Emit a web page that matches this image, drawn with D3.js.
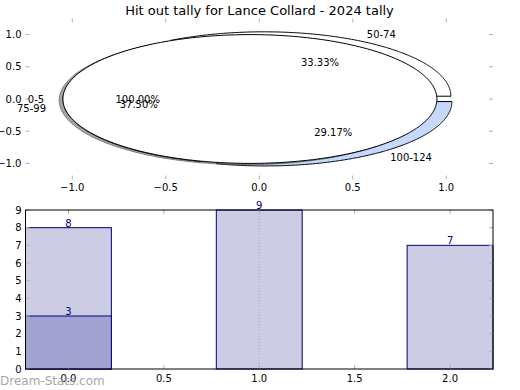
<!DOCTYPE html>
<html><head><meta charset="utf-8">
<script src="https://cdn.jsdelivr.net/npm/d3@7"></script>
<style>body{margin:0;background:#fff}svg{display:block}text{font-family:"DejaVu Sans",sans-serif}</style>
</head><body>
<script>
// ---- data ----
const title = "Hit out tally for Lance Collard - 2024 tally";
const innerLabels = ["0-5"];
const innerValues = [24];
const innerColors = ["#ffffff"];
const outerLabels = ["50-74", "75-99", "100-124"];
const outerValues = [8, 9, 7];
const outerColors = ["#ffffff", "#ffffff", "#c6d9fc"];
const barPositions = [0, 1, 2];
const barValues = [8, 9, 7];
const overlayPositions = [0];
const overlayValues = [3];
const pieTicks = [-1.0, -0.5, 0.0, 0.5, 1.0];
const barXTicks = [0.0, 0.5, 1.0, 1.5, 2.0];
const barYTicks = [0,1,2,3,4,5,6,7,8,9];

const W = 520, H = 390;
const svg = d3.select("body").append("svg").attr("width", W).attr("height", H);
const font = "DejaVu Sans";
const tickCol = "#b0b0b0";

svg.append("text").attr("x", 259.5).attr("y", 15).attr("text-anchor", "middle")
  .attr("font-size", 13).text(title);

// ---- top (pie) axes ----
const L = 25.5, R = 493;
const xT = d3.scaleLinear([-1.25, 1.25], [L, R]);
const yT = d3.scaleLinear([-1.25, 1.25], [179.5, 18.5]);
const explode = 0.05;
const line = d3.line().x(d => xT(d[0])).y(d => yT(d[1]));

function wedge(cx, cy, a0, a1) {
  const pts = [];
  const full = (a1 - a0) >= 2 * Math.PI - 1e-9;
  if (!full) pts.push([cx, cy]);
  const n = 240;
  for (let i = 0; i <= n; i++) {
    const a = a0 + (a1 - a0) * i / n;
    pts.push([cx + Math.cos(a), cy + Math.sin(a)]);
  }
  return line(pts) + "Z";
}
const pieGen = d3.pie().sort(null).startAngle(0).endAngle(2 * Math.PI);
const gPie = svg.append("g");
const labelData = [];

function drawPie(values, labels, colors, shadow) {
  const arcs = pieGen(values);
  const total = d3.sum(values);
  arcs.forEach((a, i) => {
    const mid = (a.startAngle + a.endAngle) / 2;
    const cx = explode * Math.cos(mid), cy = explode * Math.sin(mid);
    if (shadow) {
      gPie.append("path").attr("d", wedge(cx - 0.02, cy - 0.02, a.startAngle, a.endAngle))
        .attr("fill", "rgb(77,77,77)").attr("fill-opacity", 0.5)
        .attr("stroke", "rgb(77,77,77)").attr("stroke-opacity", 0.6).attr("stroke-width", 1);
    }
    gPie.append("path").attr("d", wedge(cx, cy, a.startAngle, a.endAngle))
      .attr("fill", colors[i]).attr("stroke", "#000").attr("stroke-width", 1);
    const lx = cx + 1.1 * Math.cos(mid), ly = cy + 1.1 * Math.sin(mid);
    labelData.push({x: lx, y: ly, t: labels[i], anchor: lx > 0 ? "start" : "end"});
    const px = cx + 0.6 * Math.cos(mid), py = cy + 0.6 * Math.sin(mid);
    labelData.push({x: px, y: py, t: (values[i] / total * 100).toFixed(2) + "%", anchor: "middle"});
  });
}
drawPie(outerValues, outerLabels, outerColors, false);
drawPie(innerValues, innerLabels, innerColors, true);

// top axes ticks (no spines)
const gTA = svg.append("g");
pieTicks.forEach(t => {
  gTA.append("line").attr("x1", xT(t)).attr("x2", xT(t)).attr("y1", 179.5).attr("y2", 175.5).attr("stroke", tickCol);
  gTA.append("line").attr("x1", xT(t)).attr("x2", xT(t)).attr("y1", 18.5).attr("y2", 22.5).attr("stroke", tickCol);
  gTA.append("line").attr("y1", yT(t)).attr("y2", yT(t)).attr("x1", L).attr("x2", L + 4).attr("stroke", tickCol);
  gTA.append("line").attr("y1", yT(t)).attr("y2", yT(t)).attr("x1", R).attr("x2", R - 4).attr("stroke", tickCol);
  gTA.append("text").attr("x", xT(t)).attr("y", 191).attr("text-anchor", "middle").attr("font-size", 10)
    .text(d3.format(".1f")(t));
  gTA.append("text").attr("x", L - 4).attr("y", yT(t)).attr("dy", "0.35em").attr("text-anchor", "end").attr("font-size", 10)
    .text(d3.format(".1f")(t));
});
labelData.forEach(d => {
  svg.append("text").attr("x", xT(d.x)).attr("y", yT(d.y)).attr("dy", "0.35em")
    .attr("text-anchor", d.anchor).attr("font-size", 10).text(d.t);
});

// ---- bottom (bar) axes ----
const top2 = 210, bot2 = 369;
const xB = d3.scaleLinear([-0.225, 2.225], [L, R]);
const yB = d3.scaleLinear([0, 9], [bot2, top2]);
const bw = 0.45;
const gB = svg.append("g");
barPositions.forEach((p, i) => {
  gB.append("rect").attr("x", xB(p - bw / 2)).attr("width", xB(p + bw / 2) - xB(p - bw / 2))
    .attr("y", yB(barValues[i])).attr("height", yB(0) - yB(barValues[i]))
    .attr("fill", "#ccccE5").attr("stroke", "#000080").attr("stroke-width", 1);
});
overlayPositions.forEach((p, i) => {
  gB.append("rect").attr("x", xB(p - bw / 2)).attr("width", xB(p + bw / 2) - xB(p - bw / 2))
    .attr("y", yB(overlayValues[i])).attr("height", yB(0) - yB(overlayValues[i]))
    .attr("fill", "#a3a3d1").attr("stroke", "#000080").attr("stroke-width", 1);
});
gB.append("line").attr("x1", xB(1)).attr("x2", xB(1)).attr("y1", top2).attr("y2", bot2)
  .attr("stroke", "#aaaaaa").attr("stroke-dasharray", "1,2");
barXTicks.forEach(t => {
  gB.append("line").attr("x1", xB(t)).attr("x2", xB(t)).attr("y1", bot2).attr("y2", bot2 - 4).attr("stroke", tickCol);
  gB.append("line").attr("x1", xB(t)).attr("x2", xB(t)).attr("y1", top2).attr("y2", top2 + 4).attr("stroke", tickCol);
  gB.append("text").attr("x", xB(t)).attr("y", 382).attr("text-anchor", "middle").attr("font-size", 10)
    .text(d3.format(".1f")(t));
});
barYTicks.forEach(t => {
  gB.append("line").attr("y1", yB(t)).attr("y2", yB(t)).attr("x1", L).attr("x2", L + 4).attr("stroke", tickCol);
  gB.append("line").attr("y1", yB(t)).attr("y2", yB(t)).attr("x1", R).attr("x2", R - 4).attr("stroke", tickCol);
  gB.append("text").attr("x", L - 4).attr("y", yB(t)).attr("dy", "0.35em").attr("text-anchor", "end").attr("font-size", 10)
    .text(t);
});
gB.append("rect").attr("x", L).attr("y", top2).attr("width", R - L).attr("height", bot2 - top2)
  .attr("fill", "none").attr("stroke", "#000").attr("stroke-width", 1);
barPositions.forEach((p, i) => {
  gB.append("text").attr("x", xB(p)).attr("y", yB(barValues[i]) - 1).attr("text-anchor", "middle")
    .attr("font-size", 10).attr("fill", "#000080").text(barValues[i]);
});
overlayPositions.forEach((p, i) => {
  gB.append("text").attr("x", xB(p)).attr("y", yB(overlayValues[i]) - 1).attr("text-anchor", "middle")
    .attr("font-size", 10).attr("fill", "#000080").text(overlayValues[i]);
});

svg.append("text").attr("x", 0).attr("y", 385).attr("font-size", 12).attr("fill", "#999")
  .attr("fill-opacity", 0.9).text("Dream-Stats.com");
</script>
</body></html>
